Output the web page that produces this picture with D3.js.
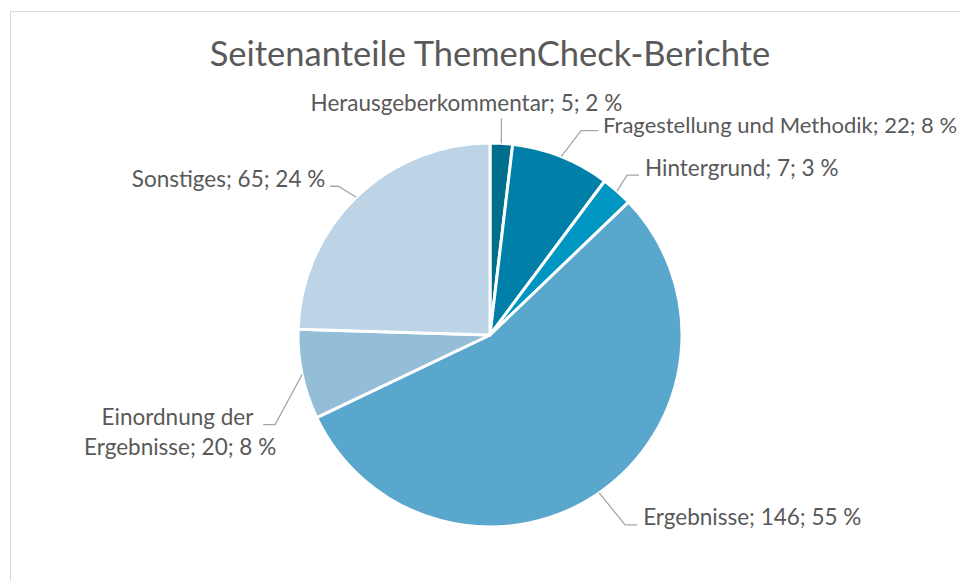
<!DOCTYPE html>
<html>
<head>
<meta charset="utf-8">
<script src="https://cdn.jsdelivr.net/npm/d3@7"></script>
<style>
  body { margin: 0; background: #fff; }
  svg { display: block; }
  text { font-family: Lato, "Open Sans", sans-serif; fill: #595959; }
</style>
</head>
<body>
<script>
const WIDTH = 960;
const HEIGHT = 581;
const CX = 490;
const CY = 335;
const RADIUS = 192;
const LABEL_SIZE = 22.5;

// Chart data.
const categories = ['Herausgeberkommentar', 'Fragestellung und Methodik', 'Hintergrund',
    'Ergebnisse', 'Einordnung der Ergebnisse', 'Sonstiges'];
const pages = [5, 22, 7, 146, 20, 65];
const percents = [2, 8, 3, 55, 8, 24];
const colors = ['#006e8d', '#0080a9', '#0096c2', '#5aa7ce', '#94bed8', '#bcd4e6'];

// Label layout: elbow offset from the slice edge, text offset from the elbow.
const label_layout = [
    { elbow: [0, -25], tail: 0, anchor: 'middle', text: [-35, -7] },
    { elbow: [20, -26], tail: 17, anchor: 'start', text: [22, 2], size: 22 },
    { elbow: [10, -16], tail: 12, anchor: 'start', text: [18, 1] },
    { elbow: [26, 32], tail: 12, anchor: 'start', text: [18, 0] },
    { elbow: [-27, 50], tail: -12, anchor: 'middle', text: [-95, 0], lines: ['Einordnung der\u00a0', 'Ergebnisse; 20; 8 %'] },
    { elbow: [-18, -11], tail: -8, anchor: 'end', text: [-13, 1] }
];

var svg = d3.select('body')
    .append('svg')
    .attr('width', WIDTH)
    .attr('height', HEIGHT);

// Chart frame.
svg.append('rect')
    .attr('x', 10.5)
    .attr('y', 11.5)
    .attr('width', WIDTH)
    .attr('height', HEIGHT)
    .attr('fill', 'none')
    .attr('stroke', '#d9d9d9');

svg.append('text')
    .attr('x', CX)
    .attr('y', 66)
    .attr('text-anchor', 'middle')
    .style('font-size', '34.5px')
    .text('Seitenanteile ThemenCheck-Berichte');

var slices = categories.map((c, i) => ({ name: c, value: pages[i], pct: percents[i], color: colors[i], layout: label_layout[i] }));

var pie = d3.pie().sort(null).value(d => d.value);
var arc = d3.arc().innerRadius(0).outerRadius(RADIUS);
var arcs = pie(slices);

var g = svg.append('g').attr('transform', `translate(${CX},${CY})`);

g.selectAll('.slice')
    .data(arcs)
    .enter()
    .append('path')
    .attr('class', 'slice')
    .attr('d', arc)
    .attr('fill', d => d.data.color)
    .attr('stroke', '#fff')
    .attr('stroke-width', 3)
    .attr('stroke-linejoin', 'round');

// Leader lines start where the slice's mid angle meets the rim.
function edge_point(d) {
    let a = (d.startAngle + d.endAngle) / 2;
    return [RADIUS * Math.sin(a), -RADIUS * Math.cos(a)];
}

g.selectAll('.leader')
    .data(arcs)
    .enter()
    .append('polyline')
    .attr('class', 'leader')
    .attr('fill', 'none')
    .attr('stroke', '#a6a6a6')
    .attr('stroke-width', 1.3)
    .attr('points', function(d) {
        let p = edge_point(d);
        let l = d.data.layout;
        let e = [p[0] + l.elbow[0], p[1] + l.elbow[1]];
        let t = [e[0] + l.tail, e[1]];
        return [p, e, t].map(q => q.join(',')).join(' ');
    });

var labels = g.selectAll('.label')
    .data(arcs)
    .enter()
    .append('text')
    .attr('class', 'label')
    .style('font-size', d => (d.data.layout.size || LABEL_SIZE) + 'px')
    .attr('text-anchor', d => d.data.layout.anchor)
    .attr('transform', function(d) {
        let p = edge_point(d);
        let l = d.data.layout;
        return `translate(${p[0] + l.elbow[0] + l.text[0]},${p[1] + l.elbow[1] + l.text[1]})`;
    });

labels.each(function(d) {
    let lines = d.data.layout.lines || [`${d.data.name}; ${d.data.value}; ${d.data.pct} %`];
    d3.select(this).selectAll('tspan')
        .data(lines)
        .enter()
        .append('tspan')
        .attr('x', 0)
        .attr('dy', (s, i) => i === 0 ? 0 : 30)
        .text(s => s);
});
</script>
</body>
</html>
